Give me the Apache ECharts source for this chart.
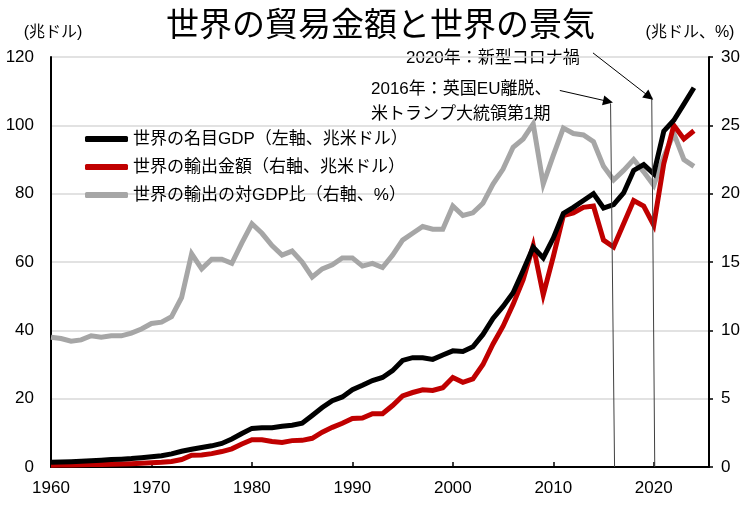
<!DOCTYPE html>
<html>
<head>
<meta charset="utf-8">
<script src="https://cdn.jsdelivr.net/npm/echarts@6/dist/echarts.min.js"></script>
<style>
html,body{margin:0;padding:0;background:#fff;}
#chart{width:750px;height:514px;}
</style>
</head>
<body>
<div id="chart"></div>
<script>
const years = [1960,1961,1962,1963,1964,1965,1966,1967,1968,1969,
1970,1971,1972,1973,1974,1975,1976,1977,1978,1979,
1980,1981,1982,1983,1984,1985,1986,1987,1988,1989,
1990,1991,1992,1993,1994,1995,1996,1997,1998,1999,
2000,2001,2002,2003,2004,2005,2006,2007,2008,2009,
2010,2011,2012,2013,2014,2015,2016,2017,2018,2019,
2020,2021,2022,2023,2024];

// 世界の名目GDP（左軸、兆米ドル）
const gdp = [1.4,1.45,1.55,1.67,1.83,1.99,2.16,2.3,2.48,2.74,
3.0,3.3,3.85,4.6,5.2,5.7,6.2,6.9,8.2,9.8,
11.3,11.5,11.5,11.9,12.2,12.8,15.1,17.4,19.4,20.5,
22.6,23.9,25.3,26.2,28.2,31.2,32.0,32.0,31.5,32.8,
34.0,33.8,35.2,38.8,43.5,47.0,51.0,57.5,64.3,61.2,
67.0,74.2,76.0,78.0,80.0,75.8,76.8,80.2,86.8,88.5,
85.8,98.3,101.5,106.2,111.0];

// 世界の輸出金額（右軸、兆米ドル）
const exportsValue = [0.13,0.14,0.15,0.16,0.18,0.19,0.21,0.22,0.24,0.27,
0.31,0.35,0.41,0.55,0.86,0.88,0.98,1.13,1.33,1.68,
2.0,2.0,1.87,1.8,1.93,1.95,2.1,2.55,2.9,3.2,
3.55,3.58,3.9,3.9,4.5,5.2,5.45,5.65,5.6,5.8,
6.55,6.2,6.45,7.5,9.0,10.3,11.9,13.7,16.2,12.6,
15.4,18.4,18.6,19.0,19.1,16.6,16.1,17.8,19.5,19.1,
17.7,22.2,25.0,24.0,24.6];

// 世界の輸出の対GDP比（右軸、%）
const exportsRatio = [9.5,9.4,9.2,9.3,9.6,9.5,9.6,9.6,9.8,10.1,
10.5,10.6,11.0,12.4,15.6,14.5,15.2,15.2,14.9,16.4,
17.8,17.1,16.2,15.5,15.8,15.0,13.9,14.5,14.8,15.3,
15.3,14.7,14.9,14.6,15.5,16.6,17.1,17.6,17.4,17.4,
19.1,18.4,18.6,19.3,20.7,21.8,23.4,24.0,25.1,20.7,
22.8,24.8,24.4,24.3,23.8,22.0,21.0,21.7,22.5,21.6,
20.6,22.7,24.4,22.5,22.0];

const seriesNames = ['世界の名目GDP（左軸、兆米ドル）','世界の輸出金額（右軸、兆米ドル）','世界の輸出の対GDP比（右軸、%）'];
const leftTicks = {min:0, max:120, interval:20};
const rightTicks = {min:0, max:30, interval:5};
const xTicks = {min:1960, max:2025.5, interval:10};

// annotation guide lines (x: year, y: right-axis value)
const guideLines = [
  [[2015.7, 26.6],[2016.1, 0]],
  [[2019.8, 27.05],[2020.1, 0]]
];
const arrowLines = [
  [[2010.65, 27.55],[2015.45, 26.75]],
  [[2013.95, 30.3],[2019.55, 27.1]]
];

const pair = arr => years.map((y,i)=>[y, arr[i]]);
const FONT = "'Liberation Sans', 'Noto Sans CJK JP', sans-serif";

const chart = echarts.init(document.getElementById('chart'), null, {renderer:'canvas'});
chart.setOption({
  animation:false,
  backgroundColor:'#fff',
  textStyle:{fontFamily:FONT, color:'#000'},
  title:{
    text:'世界の貿易金額と世界の景気',
    left:161, top:5,
    textStyle:{fontSize:33, fontWeight:'normal', color:'#000', fontFamily:FONT}
  },
  legend:{
    data:[seriesNames[0],seriesNames[1],seriesNames[2]],
    orient:'vertical',
    left:80, top:124,
    itemWidth:43, itemHeight:6, itemGap:8,
    icon:'roundRect',
    textStyle:{fontSize:17, color:'#000', lineHeight:20, fontFamily:FONT}
  },
  grid:{left:51, right:41, top:57, bottom:47, outerBoundsMode:'none', containLabel:false},
  xAxis:{
    type:'value', min:xTicks.min, max:xTicks.max, interval:xTicks.interval,
    axisLine:{show:true, lineStyle:{color:'#000', width:2}},
    axisTick:{show:true, inside:true, length:5, lineStyle:{color:'#000', width:1.5}},
    splitLine:{show:false},
    axisLabel:{fontSize:17, color:'#000', margin:13, fontFamily:FONT,
      showMaxLabel:false,
      formatter:v => (v % 10 === 0 ? String(v) : '')}
  },
  yAxis:[{
    type:'value', min:leftTicks.min, max:leftTicks.max, interval:leftTicks.interval,
    position:'left',
    name:'(兆ドル)', nameLocation:'end', nameGap:16,
    nameTextStyle:{fontSize:16, color:'#000', fontFamily:FONT, padding:[0,0,0,4]},
    axisLine:{show:true, lineStyle:{color:'#000', width:2}},
    axisTick:{show:false},
    splitLine:{show:true, lineStyle:{color:'#d9d9d9', width:1.5}},
    axisLabel:{fontSize:17, color:'#000', margin:17, fontFamily:FONT}
  },{
    type:'value', min:rightTicks.min, max:rightTicks.max, interval:rightTicks.interval,
    position:'right',
    name:'(兆ドル、%)', nameLocation:'end', nameGap:16,
    nameTextStyle:{fontSize:16, color:'#000', fontFamily:FONT, padding:[0,38,0,0]},
    axisLine:{show:true, lineStyle:{color:'#000', width:2}},
    axisTick:{show:true, inside:false, length:4, lineStyle:{color:'#000', width:1.5}},
    splitLine:{show:false},
    axisLabel:{fontSize:17, color:'#000', margin:12, fontFamily:FONT}
  }],
  series:[
    {name:seriesNames[2], type:'line', yAxisIndex:1, data:pair(exportsRatio),
     showSymbol:false, symbol:'none', lineStyle:{color:'#a6a6a6', width:5, join:'miter'}, itemStyle:{color:'#a6a6a6'}, z:2},
    {name:seriesNames[1], type:'line', yAxisIndex:1, data:pair(exportsValue),
     showSymbol:false, symbol:'none', lineStyle:{color:'#c00000', width:5, join:'miter'}, itemStyle:{color:'#c00000'}, z:3},
    {name:seriesNames[0], type:'line', yAxisIndex:0, data:pair(gdp),
     showSymbol:false, symbol:'none', lineStyle:{color:'#000000', width:5, join:'miter'}, itemStyle:{color:'#000000'}, z:4},
    {name:'guide', type:'lines', coordinateSystem:'cartesian2d', xAxisIndex:0, yAxisIndex:1,
     clip:false, symbol:['none','none'],
     lineStyle:{color:'#404040', width:1, opacity:1},
     data:guideLines.map(c=>({coords:c})), z:5},
    {name:'arrow', type:'lines', coordinateSystem:'cartesian2d', xAxisIndex:0, yAxisIndex:1,
     clip:false, symbol:['none','triangle'], symbolSize:10,
     lineStyle:{color:'#000', width:1, opacity:1},
     data:arrowLines.map(c=>({coords:c})), z:5}
  ],
  graphic:[
    {type:'text', left:406, top:50, style:{text:'2020年：新型コロナ禍', font:"17px 'Liberation Sans', 'Noto Sans CJK JP'", fill:'#000'}},
    {type:'text', left:371, top:81, style:{text:'2016年：英国EU離脱、', font:"17px 'Liberation Sans', 'Noto Sans CJK JP'", fill:'#000'}},
    {type:'text', left:371, top:106, style:{text:'米トランプ大統領第1期', font:"17px 'Liberation Sans', 'Noto Sans CJK JP'", fill:'#000'}}
  ]
});
</script>
</body>
</html>
